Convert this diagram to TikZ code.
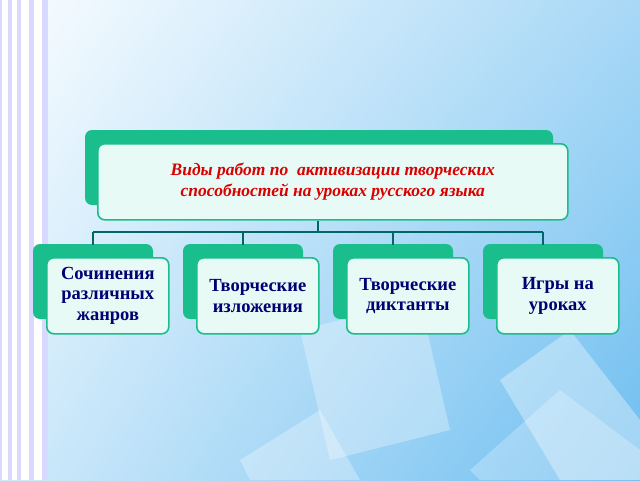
\documentclass[tikz,border=0pt]{standalone}
\usepackage{fontspec}
\usetikzlibrary{shadings}
\setmainfont{Liberation Serif}
\begin{document}
\begin{tikzpicture}[x=1pt,y=-1pt,
  back/.style={fill=gr,rounded corners=7pt},
  front/.style={fill=mint,draw=gr,line width=1.6pt,rounded corners=7pt},
  ctext/.style={font=\bfseries\fontsize{18.5}{20.5}\selectfont,text=blue!45!black,align=center},
  conn/.style={draw=teal!80!black,line width=1.2pt}]
\definecolor{gr}{RGB}{25,190,140}
\definecolor{mint}{RGB}{232,250,246}
\definecolor{bgA}{RGB}{250,253,255}
\definecolor{bgB}{RGB}{110,190,240}
\useasboundingbox (0,0) rectangle (640,480);
\shade[upper left=bgA,upper right=bgB!60!white,lower left=bgA!70!bgB,lower right=bgB] (0,0) rectangle (640,480);
% stripes
\fill[blue!15] (0,0) rectangle (48,480);
\foreach \x/\w in {2/6,12/5,21/8,34/8}{\fill[white] (\x,0) rectangle (\x+\w,480);}
% translucent squares
\fill[white,opacity=0.3] (300,330) -- (420,300) -- (450,430) -- (330,460) -- cycle;
\fill[white,opacity=0.35] (500,380) -- (570,330) -- (640,420) -- (640,480) -- (560,480) -- cycle;
\fill[white,opacity=0.3] (240,460) -- (320,410) -- (360,480) -- (250,480) -- cycle;
\fill[white,opacity=0.25] (470,470) -- (560,390) -- (640,450) -- (640,480) -- (480,480) -- cycle;
% top box
\fill[back] (85,130) rectangle (553,205);
\node[front,minimum width=470pt,minimum height=76pt,anchor=north west,
  font=\bfseries\itshape\fontsize{17.5}{21}\selectfont,text=red!85!black,align=center]
  (top) at (97,143) {Виды работ по\ \ активизации творческих\\способностей на уроках русского языка};
\coordinate (bus) at (318,232);
\draw[conn] (top.south -| bus) -- (bus);
\draw[conn] (93,232) -- (543,232);
\foreach \i/\bx/\t in {1/33/{Сочинения\\различных\\жанров},2/183/{Творческие\\изложения},3/333/{Творческие\\диктанты},4/483/{Игры на\\уроках}}{
  \coordinate (d\i) at (\bx+60,232);
  \fill[back] (\bx,244) rectangle (\bx+120,319);
  \node[front,ctext,minimum width=122pt,minimum height=76pt,anchor=north west,inner sep=2pt] (c\i) at (\bx+13,257) {\t};
  \draw[conn] (d\i) -- ++(0,13);
}
\end{tikzpicture}
\end{document}
